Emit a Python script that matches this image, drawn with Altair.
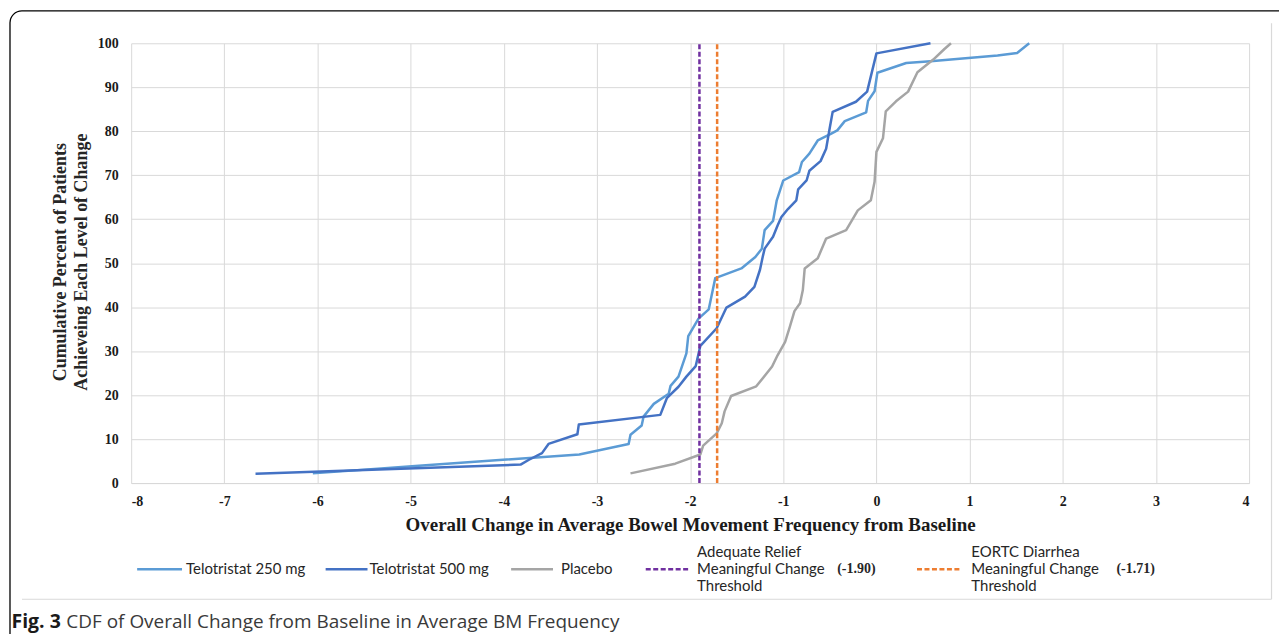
import altair as alt
import pandas as pd

# ---------------- data ----------------
x_ticks = list(range(-8, 5))
y_ticks = list(range(0, 101, 10))

series_names = ["Telotristat 250 mg", "Telotristat 500 mg", "Placebo"]
series_colors = ["#5B9BD5", "#4472C4", "#A5A5A5"]

tel250_x = [-6.05, -4.95, -3.19, -2.66, -2.64, -2.52, -2.50, -2.39, -2.23, -2.21,
            -2.125, -2.04, -2.02, -1.91, -1.80, -1.73, -1.45, -1.30, -1.23, -1.20,
            -1.11, -1.07, -1.00, -0.83, -0.80, -0.72, -0.63, -0.49, -0.42, -0.34,
            -0.11, -0.09, -0.02, 0.01, 0.32, 0.58, 1.30, 1.51, 1.64]
tel250_y = [2.2, 3.9, 6.5, 8.9, 11.0, 13.1, 15.1, 18.0, 20.3, 22.1,
            24.2, 29.5, 33.4, 37.4, 39.5, 46.6, 48.8, 51.4, 53.3, 57.5,
            59.6, 64.3, 68.8, 70.7, 73.0, 74.9, 77.9, 79.4, 80.2, 82.3,
            84.3, 86.9, 89.1, 93.3, 95.5, 95.9, 97.2, 97.8, 100.0]

tel500_x = [-6.665, -3.82, -3.73, -3.59, -3.52, -3.21, -3.195, -2.32, -2.25, -2.125,
            -2.04, -1.94, -1.89, -1.715, -1.61, -1.41, -1.31, -1.25, -1.22, -1.20,
            -1.11, -1.06, -1.02, -0.95, -0.86, -0.84, -0.75, -0.72, -0.60, -0.54,
            -0.50, -0.47, -0.22, -0.10, 0.00, 0.58]
tel500_y = [2.1, 4.2, 5.3, 6.8, 8.9, 11.1, 13.3, 15.5, 19.3, 21.9,
            24.2, 26.6, 31.2, 35.2, 39.9, 42.4, 44.6, 48.5, 51.5, 53.3,
            56.0, 58.6, 60.5, 62.3, 64.3, 66.8, 68.8, 71.0, 73.2, 76.0,
            80.9, 84.4, 86.7, 89.0, 97.7, 100.0]

placebo_x = [-2.64, -2.16, -1.89, -1.86, -1.715, -1.66, -1.63, -1.56, -1.29, -1.12,
             -1.06, -0.98, -0.93, -0.88, -0.82, -0.79, -0.77, -0.63, -0.54, -0.325,
             -0.20, -0.06, -0.02, 0.00, 0.07, 0.10, 0.21, 0.34, 0.44, 0.61, 0.73, 0.80]
placebo_y = [2.2, 4.4, 6.5, 8.5, 11.3, 13.6, 16.3, 19.8, 22.0, 26.5,
             29.1, 32.1, 35.5, 39.1, 40.9, 43.9, 48.8, 51.1, 55.6, 57.5,
             62.0, 64.3, 68.5, 75.3, 78.4, 84.5, 86.8, 89.0, 93.4, 96.3, 98.7, 100.0]

threshold_names = ["Adequate Relief", "EORTC Diarrhea"]
threshold_values = [-1.90, -1.71]
threshold_colors = ["#7030A0", "#ED7D31"]
threshold_labels = ["(-1.90)", "(-1.71)"]

legend_lines_1 = ["Adequate Relief", "Meaningful Change", "Threshold"]
legend_lines_2 = ["EORTC Diarrhea", "Meaningful Change", "Threshold"]

x_title = "Overall Change in Average Bowel Movement Frequency from Baseline"
y_title = ["Cumulative Percent of Patients", "Achieveing Each Level of Change"]
caption_bold = "Fig. 3"
caption_text = "CDF of Overall Change from Baseline in Average BM Frequency"

# ---------------- tables ----------------
rows = []
for name, xs, ys in zip(series_names, [tel250_x, tel500_x, placebo_x],
                        [tel250_y, tel500_y, placebo_y]):
    for i, (a, b) in enumerate(zip(xs, ys)):
        rows.append({"series": name, "x": a, "y": b, "i": i})
df = pd.DataFrame(rows)

thr = pd.DataFrame({"name": threshold_names, "x": threshold_values,
                    "y0": [0, 0], "y1": [100, 100]})
one = pd.DataFrame({"k": [0]})

SERIF = "Liberation Serif"
SANS = "Lato"

xscale = alt.Scale(domain=[-8, 4], nice=False)
yscale = alt.Scale(domain=[0, 100], nice=False)

lines = alt.Chart(df).mark_line(strokeWidth=2.5, strokeJoin="round").encode(
    x=alt.X("x:Q", scale=xscale,
            axis=alt.Axis(values=x_ticks, title=x_title, titleY=42,
                          titleBaseline="middle", labelPadding=12,
                          labelExpr="toString(datum.value)")),
    y=alt.Y("y:Q", scale=yscale,
            axis=alt.Axis(values=y_ticks, title=None, labelPadding=13)),
    color=alt.Color("series:N", scale=alt.Scale(domain=series_names, range=series_colors),
                    legend=None),
    order="i:Q",
)

rules = alt.Chart(thr).mark_rule(strokeWidth=2.5, strokeDash=[5, 2.5]).encode(
    x=alt.X("x:Q", scale=xscale),
    y=alt.Y("y0:Q", scale=yscale),
    y2="y1:Q",
    stroke=alt.Stroke("name:N", scale=alt.Scale(domain=threshold_names, range=threshold_colors),
                      legend=None),
)


def txt(text, x, y, size=15, font=SANS, weight="normal", color="#262626",
        align="left", angle=0):
    return alt.Chart(one).mark_text(
        text=text, font=font, fontSize=size, fontWeight=weight, color=color,
        align=align, baseline="middle", angle=angle,
    ).encode(x=alt.value(x), y=alt.value(y))


def hrule(x1, x2, y, color, width=2.5, dash=False):
    kw = dict(color=color, strokeWidth=width)
    if dash:
        kw["strokeDash"] = [5, 2.5]
    return alt.Chart(one).mark_rule(**kw).encode(
        x=alt.value(x1), x2=alt.value(x2), y=alt.value(y))


def vrule(x, y1, y2, color, width=1):
    return alt.Chart(one).mark_rule(color=color, strokeWidth=width).encode(
        x=alt.value(x), y=alt.value(y1), y2=alt.value(y2))


LY = 527.5
decor = [
    # frame
    alt.Chart(one).mark_rect(fillOpacity=0, stroke="#000000", strokeWidth=1.3,
                             cornerRadius=12).encode(
        x=alt.value(-121.5), x2=alt.value(1200), y=alt.value(-32.5), y2=alt.value(700)),
    hrule(-109.5, 1143.5, 557.5, "#D9D9D9", width=1.2),
    vrule(1143.5, -20, 557.5, "#D9D9D9", width=1.2),
    # y title
    txt(y_title[0], -70, 219.5, size=18, font=SERIF, weight="bold", align="center", angle=270),
    txt(y_title[1], -49.5, 219.5, size=18, font=SERIF, weight="bold", align="center", angle=270),
    # legend
    hrule(6, 51, LY, series_colors[0]),
    txt(series_names[0], 55, LY),
    hrule(195, 237, LY, series_colors[1]),
    txt(series_names[1], 239, LY),
    hrule(381, 423, LY, series_colors[2]),
    txt(series_names[2], 431, LY),
    hrule(516, 560, LY, threshold_colors[0], dash=True),
    txt(legend_lines_1[0], 567.5, LY - 17),
    txt(legend_lines_1[1], 567.5, LY),
    txt(legend_lines_1[2], 567.5, LY + 16.5),
    txt(threshold_labels[0], 708, LY, size=14, font=SERIF, weight="bold"),
    hrule(788, 833, LY, threshold_colors[1], dash=True),
    txt(legend_lines_2[0], 842.5, LY - 17),
    txt(legend_lines_2[1], 842.5, LY),
    txt(legend_lines_2[2], 842.5, LY + 16.5),
    txt(threshold_labels[1], 988, LY, size=14, font=SERIF, weight="bold"),
    # caption
    txt(caption_bold, -120, 580, size=19.5, font="Open Sans", weight="bold", color="#1a1a1a"),
    txt(caption_text, -65, 580, size=19, font="Open Sans", color="#3a3a3a"),
]

chart = alt.layer(lines, rules, *decor).resolve_scale(color="independent").properties(
    width=1121,
    height=441,
    autosize=alt.AutoSizeParams(type="none"),
    padding={"left": 123.5, "top": 34.5, "right": 30, "bottom": 150},
    background="white",
).configure_view(stroke=None).configure_axis(
    grid=True,
    gridColor="#D9D9D9",
    gridWidth=1,
    domain=False,
    ticks=False,
    tickSize=0,
    labelFont=SERIF,
    labelFontWeight="bold",
    labelFontSize=14,
    labelColor="#1a1a1a",
    titleFont=SERIF,
    titleFontWeight="bold",
    titleFontSize=19,
    titleColor="#1a1a1a",
).configure_axisX(
    domain=True, domainColor="#D9D9D9", domainWidth=1,
)

chart.save("out.html", embed_options={"renderer": "svg", "actions": False})
